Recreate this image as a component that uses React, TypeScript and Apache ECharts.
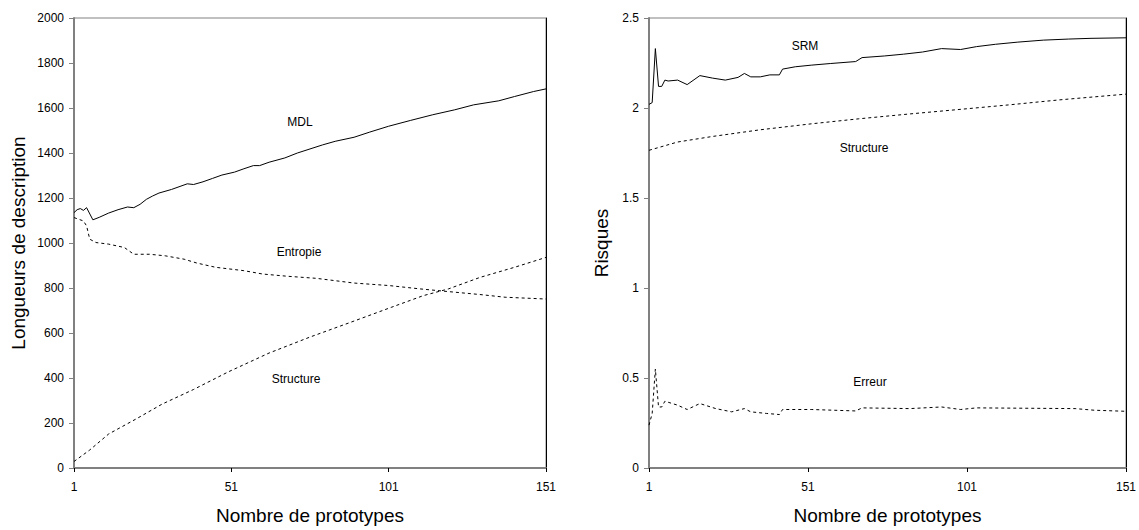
import React, { useEffect, useRef } from "react";
import * as echarts from "echarts";

// ---------- data ----------
const xTicks = [1, 51, 101, 151];

const mdl = [
  [1, 1135], [2, 1148], [3, 1153], [4, 1145], [5, 1157], [7, 1103], [9, 1114],
  [12, 1133], [15, 1148], [18, 1160], [20, 1157], [22, 1172], [24, 1194],
  [26, 1209], [28, 1222], [32, 1238], [35, 1253], [37, 1263], [39, 1260],
  [42, 1272], [45, 1287], [48, 1302], [52, 1315], [55, 1330], [58, 1344],
  [60, 1344], [63, 1359], [68, 1378], [72, 1400], [76, 1418], [80, 1436],
  [84, 1452], [90, 1470], [95, 1493], [101, 1519], [108, 1545], [115, 1570],
  [122, 1592], [128, 1614], [136, 1632], [141, 1651], [147, 1673], [151, 1685],
];

const entropie = [
  [1, 1113], [4, 1098], [5, 1076], [6, 1017], [8, 1002], [12, 995], [17, 980],
  [20, 950], [25, 950], [30, 943], [36, 928], [40, 911], [46, 892], [55, 877],
  [61, 862], [69, 852], [78, 843], [90, 822], [101, 811], [111, 796],
  [120, 784], [130, 771], [138, 759], [151, 751],
];

const structureL = [
  [1, 29], [6, 80], [12, 151], [21, 220], [29, 284], [39, 349], [50, 427],
  [63, 511], [76, 582], [89, 648], [102, 715], [112, 766], [120, 796],
  [130, 847], [141, 892], [151, 936],
];

const srm = [
  [1, 2.02], [2, 2.03], [3, 2.33], [4, 2.12], [5, 2.12], [6, 2.155], [7, 2.15],
  [10, 2.155], [13, 2.13], [17, 2.18], [21, 2.166], [25, 2.155], [29, 2.17],
  [31, 2.192], [33, 2.173], [36, 2.173], [39, 2.184], [42, 2.184], [43, 2.216],
  [47, 2.229], [52, 2.238], [58, 2.247], [66, 2.258], [68, 2.28], [75, 2.289],
  [81, 2.299], [87, 2.311], [93, 2.33], [99, 2.325], [104, 2.341], [110, 2.354],
  [117, 2.366], [125, 2.377], [133, 2.383], [140, 2.387], [151, 2.39],
];

const structureR = [
  [1, 1.765], [10, 1.811], [21, 1.842], [36, 1.879], [52, 1.912], [67, 1.94],
  [83, 1.967], [98, 1.991], [114, 2.017], [130, 2.045], [151, 2.077],
];

const erreur = [
  [1, 0.238], [2, 0.303], [3, 0.55], [4, 0.339], [5, 0.339], [6, 0.371],
  [10, 0.349], [13, 0.325], [17, 0.358], [22, 0.33], [27, 0.312], [31, 0.33],
  [33, 0.312], [38, 0.303], [42, 0.297], [43, 0.325], [52, 0.325], [66, 0.317],
  [68, 0.334], [83, 0.33], [93, 0.339], [99, 0.325], [104, 0.334], [135, 0.33],
  [141, 0.321], [151, 0.315],
];

const FONT = "'Liberation Sans', Arial, sans-serif";
const GRAY = "#808080";

const plain = (v: number) => String(v);

function xAxisCfg(gridIndex: number) {
  return {
    type: "value",
    gridIndex,
    min: 1,
    max: 151,
    name: "Nombre de prototypes",
    nameLocation: "middle",
    nameGap: 38,
    nameTextStyle: { fontFamily: FONT, fontSize: 19, color: "#000", lineHeight: 19 },
    axisLine: { show: true, onZero: false, lineStyle: { color: GRAY, width: 2 } },
    axisTick: { show: true, customValues: xTicks, length: 4, lineStyle: { color: "#000" } },
    axisLabel: { customValues: xTicks, margin: 13, fontFamily: FONT, fontSize: 12, color: "#000", formatter: plain },
    splitLine: { show: false },
  };
}

function yAxisCfg(gridIndex: number, max: number, interval: number, name: string, nameGap: number) {
  return {
    type: "value",
    gridIndex,
    min: 0,
    max,
    interval,
    name,
    nameLocation: "middle",
    nameGap,
    nameTextStyle: { fontFamily: FONT, fontSize: 19, color: "#000" },
    axisLine: { show: true, lineStyle: { color: GRAY, width: 2 } },
    axisTick: { show: true, length: 5, lineStyle: { color: GRAY } },
    axisLabel: { margin: 10, fontFamily: FONT, fontSize: 12, color: "#000", formatter: plain },
    splitLine: { show: false },
  };
}

function rightBorder(gridIndex: number, max: number) {
  return {
    type: "value",
    gridIndex,
    position: "right",
    min: 0,
    max,
    axisLine: { show: true, lineStyle: { color: "#000", width: 1 } },
    axisTick: { show: false },
    axisLabel: { show: false },
    splitLine: { show: false },
  };
}

function line(name: string, data: number[][], xi: number, yi: number, dashed: boolean) {
  return {
    type: "line",
    name,
    data,
    xAxisIndex: xi,
    yAxisIndex: yi,
    showSymbol: false,
    symbol: "none",
    lineStyle: { color: "#000", width: 1, type: dashed ? [3, 3] : "solid" },
    silent: true,
  };
}

function label(text: string, x: number, y: number) {
  return {
    type: "text",
    x,
    y,
    style: {
      text,
      fontFamily: FONT,
      fontSize: 12,
      fill: "#000",
      align: "center",
      verticalAlign: "middle",
    },
  };
}

export default function App() {
  const ref = useRef<HTMLDivElement>(null);

  useEffect(() => {
    document.body.style.margin = "0";
    document.body.style.overflow = "hidden";
    document.documentElement.style.overflow = "hidden";
    if (!ref.current) return;
    const chart = echarts.init(ref.current, undefined, { renderer: "svg" });
    chart.setOption({
      animation: false,
      backgroundColor: "#fff",
      grid: [
        { left: 74, top: 18, width: 472, height: 453.5, show: true, borderColor: GRAY, borderWidth: 1 },
        { left: 649, top: 18, width: 481, height: 453.5, show: true, borderColor: GRAY, borderWidth: 1 },
      ],
      xAxis: [xAxisCfg(0), xAxisCfg(1)],
      yAxis: [
        yAxisCfg(0, 2000, 200, "Longueurs de description", 46),
        yAxisCfg(1, 2.5, 0.5, "Risques", 38),
        rightBorder(0, 2000),
        rightBorder(1, 2.5),
      ],
      series: [
        line("MDL", mdl, 0, 0, false),
        line("Entropie", entropie, 0, 0, true),
        line("Structure", structureL, 0, 0, true),
        line("SRM", srm, 1, 1, false),
        line("Structure", structureR, 1, 1, true),
        line("Erreur", erreur, 1, 1, true),
      ],
      graphic: [
        label("MDL", 300, 122),
        label("Entropie", 299, 252),
        label("Structure", 296, 379),
        label("SRM", 805, 46),
        label("Structure", 864, 148),
        label("Erreur", 870, 382),
      ],
    });
    return () => chart.dispose();
  }, []);

  return <div ref={ref} style={{ width: 1139, height: 530, overflow: "hidden", position: "relative" }} />;
}
